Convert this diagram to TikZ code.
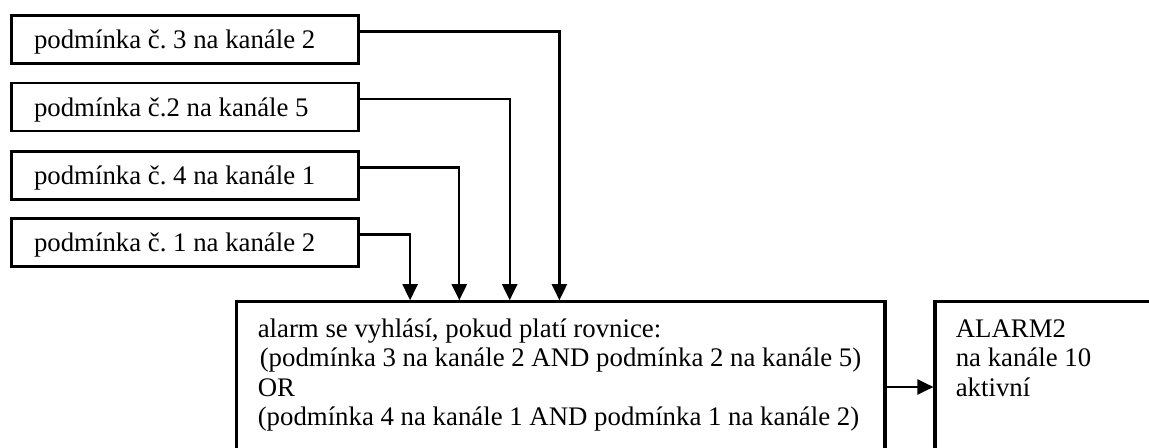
\documentclass[tikz,border=0pt]{standalone}
\usepackage{fontspec}
\setmainfont{Liberation Serif}
\usetikzlibrary{arrows.meta}
\frenchspacing
\begin{document}
\begin{tikzpicture}[x=0.5pt,y=-0.5pt,
  cbox/.style={draw, line width=1.4pt, minimum width=173.5pt, minimum height=24pt,
    text width=151pt, inner xsep=11.25pt, inner ysep=0pt, align=left,
    text height=11.75pt, text depth=2.25pt, font=\fontsize{13.4}{14.6}\selectfont\frenchspacing,
    execute at begin node={\spaceskip=0pt\relax\xspaceskip=0pt\relax}},
  bigbox/.style={draw, line width=1.6pt, inner sep=0pt},
  conn/.style={line width=1.1pt, -{Triangle[length=8pt,width=7.5pt]}},
  txt/.style={inner sep=0pt, anchor=base west, font=\fontsize{13.4}{14.6}\selectfont\frenchspacing}]
\useasboundingbox (0,0) rectangle (1149,448);
\clip (0,0) rectangle (1149,448);
\node[cbox] (c3) at (185,39.5) {podmínka č. 3 na kanále 2};
\node[cbox] (c2) at (185,107) {podmínka č.2 na kanále 5};
\node[cbox] (c4) at (185,175.5) {podmínka č. 4 na kanále 1};
\node[cbox] (c1) at (185,242.5) {podmínka č. 1 na kanále 2};
\node[bigbox, minimum width=324.25pt, minimum height=85.15pt] (eq) at (560.75,387) {};
\node[bigbox, minimum width=120pt, minimum height=85.15pt] (alarm) at (1055,387) {};
\node[txt] (eqtext) at ([xshift=11.25pt,yshift=-18.65pt]eq.north west)
  {\parbox[t]{320pt}{\baselineskip=14.7pt alarm se vyhlásí, pokud platí rovnice:\\
  \hspace*{1pt}(podmínka 3 na kanále 2 AND podmínka 2 na kanále 5)\\
  OR\\
  (podmínka 4 na kanále 1 AND podmínka 1 na kanále 2)}};
\node[txt] (alarmtext) at ([xshift=11pt,yshift=-18.65pt]alarm.north west)
  {\parbox[t]{100pt}{\baselineskip=14.7pt ALARM2\\na kanále 10\\aktivní}};
\draw[conn] ([yshift=4pt]c3.east) -| ([xshift=162.25pt]eq.north west);
\draw[conn] ([yshift=4pt]c2.east) -| ([xshift=137.4pt]eq.north west);
\draw[conn] ([yshift=4pt]c4.east) -| ([xshift=112.2pt]eq.north west);
\draw[conn] ([yshift=4pt]c1.east) -| ([xshift=87.6pt]eq.north west);
\draw[conn] (eq.east) -- (alarm.west);
\end{tikzpicture}
\end{document}
